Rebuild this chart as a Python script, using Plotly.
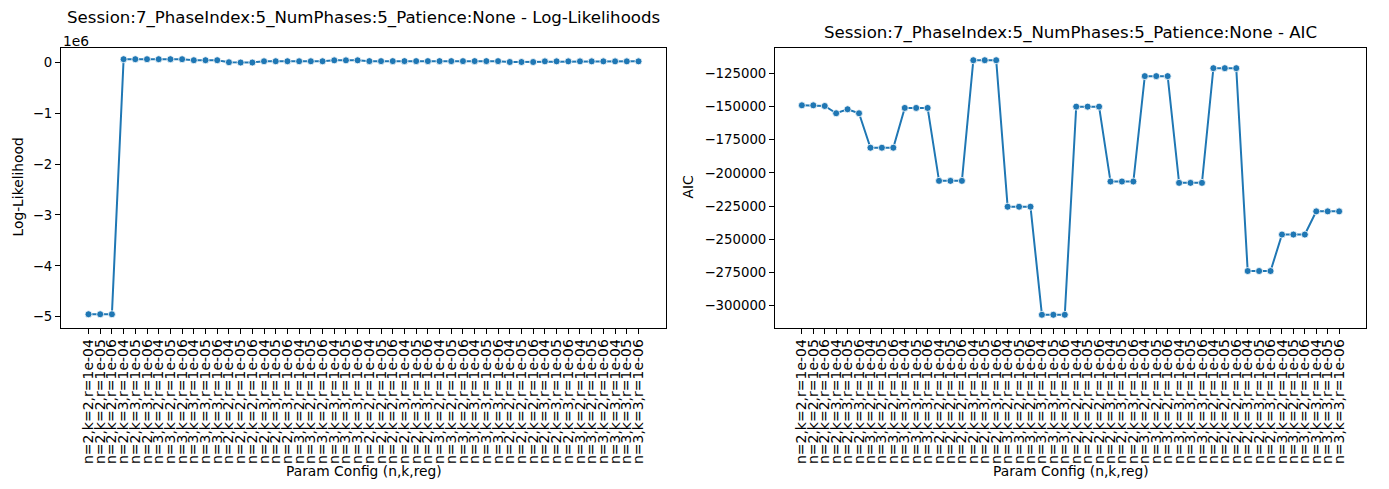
import plotly.graph_objects as go

# The page body has an 8px margin, so the figure is drawn 8px right/down.
OFF = 8
W, H = 1389 - OFF, 489 - OFF

config_labels = [
    "n=2,k=2,r=1e-04", "n=2,k=2,r=1e-05", "n=2,k=2,r=1e-06",
    "n=2,k=3,r=1e-04", "n=2,k=3,r=1e-05", "n=2,k=3,r=1e-06",
    "n=3,k=2,r=1e-04", "n=3,k=2,r=1e-05", "n=3,k=2,r=1e-06",
    "n=3,k=3,r=1e-04", "n=3,k=3,r=1e-05", "n=3,k=3,r=1e-06",
    "n=2,k=2,r=1e-04", "n=2,k=2,r=1e-05", "n=2,k=2,r=1e-06",
    "n=2,k=3,r=1e-04", "n=2,k=3,r=1e-05", "n=2,k=3,r=1e-06",
    "n=3,k=2,r=1e-04", "n=3,k=2,r=1e-05", "n=3,k=2,r=1e-06",
    "n=3,k=3,r=1e-04", "n=3,k=3,r=1e-05", "n=3,k=3,r=1e-06",
    "n=2,k=2,r=1e-04", "n=2,k=2,r=1e-05", "n=2,k=2,r=1e-06",
    "n=2,k=3,r=1e-04", "n=2,k=3,r=1e-05", "n=2,k=3,r=1e-06",
    "n=3,k=2,r=1e-04", "n=3,k=2,r=1e-05", "n=3,k=2,r=1e-06",
    "n=3,k=3,r=1e-04", "n=3,k=3,r=1e-05", "n=3,k=3,r=1e-06",
    "n=2,k=2,r=1e-04", "n=2,k=2,r=1e-05", "n=2,k=2,r=1e-06",
    "n=2,k=3,r=1e-04", "n=2,k=3,r=1e-05", "n=2,k=3,r=1e-06",
    "n=3,k=2,r=1e-04", "n=3,k=2,r=1e-05", "n=3,k=2,r=1e-06",
    "n=3,k=3,r=1e-04", "n=3,k=3,r=1e-05", "n=3,k=3,r=1e-06",
]

log_likelihood = [
    -4950000, -4950000, -4950000,
    60000, 60000, 60000,
    60000, 60000, 60000,
    40000, 40000, 40000,
    0, -5000, -5000,
    20000, 20000, 20000,
    20000, 20000, 20000,
    38000, 38000, 38000,
    22000, 22000, 22000,
    22000, 22000, 22000,
    22000, 22000, 22000,
    22000, 22000, 22000,
    5000, 5000, 5000,
    18000, 18000, 18000,
    18000, 18000, 18000,
    18000, 18000, 18000,
]

aic = [
    -149000, -149000, -149500,
    -155000, -152000, -155000,
    -181000, -181000, -181000,
    -151000, -151000, -151000,
    -206000, -206000, -206000,
    -115000, -115000, -115000,
    -225500, -225500, -225500,
    -307000, -307000, -307000,
    -150000, -150000, -150000,
    -206500, -206500, -206500,
    -127000, -127000, -127000,
    -207500, -207500, -207500,
    -121000, -121000, -121000,
    -274000, -274000, -274000,
    -246500, -246500, -246500,
    -229000, -229000, -229000,
]

ll_ticks = [-5e6, -4e6, -3e6, -2e6, -1e6, 0]
ll_ticktext = ["\u22125", "\u22124", "\u22123", "\u22122", "\u22121", "0"]
aic_ticks = [-300000, -275000, -250000, -225000, -200000, -175000, -150000, -125000]
aic_ticktext = ["\u2212" + str(-v) for v in aic_ticks]

title_left = "Session:7_PhaseIndex:5_NumPhases:5_Patience:None - Log-Likelihoods"
title_right = "Session:7_PhaseIndex:5_NumPhases:5_Patience:None - AIC"
xlabel = "Param Config (n,k,reg)"

FONT = "DejaVu Sans"
BLUE = "#1f77b4"
x_idx = list(range(len(config_labels)))


def px_x(p):
    return (p - OFF) / W


def px_y(p):
    return 1 - (p - OFF) / H


L1, R1 = 61, 666
L2, R2 = 775, 1366
TOP, BOT = 47.5, 327.5

fig = go.Figure()
marker = dict(size=7, color=BLUE, line=dict(color="white", width=0.8))
fig.add_trace(go.Scatter(x=x_idx, y=log_likelihood, mode="lines+markers",
                         line=dict(color=BLUE, width=2), marker=marker,
                         xaxis="x", yaxis="y", showlegend=False))
fig.add_trace(go.Scatter(x=x_idx, y=aic, mode="lines+markers",
                         line=dict(color=BLUE, width=2), marker=marker,
                         xaxis="x2", yaxis="y2", showlegend=False))

n = len(config_labels)
pad = (n - 1) * 0.05
xcommon = dict(tickmode="array", tickvals=x_idx, ticktext=config_labels,
               tickangle=-90, range=[-pad, n - 1 + pad],
               showline=True, mirror=True, linecolor="black", linewidth=1,
               ticks="outside", ticklen=5, tickcolor="black", tickwidth=1,
               showgrid=False, zeroline=False,
               tickfont=dict(family=FONT, size=14, color="black"))
ycommon = dict(showline=True, mirror=True, linecolor="black", linewidth=1,
               ticks="outside", ticklen=5, tickcolor="black", tickwidth=1,
               showgrid=False, zeroline=False, tickmode="array",
               tickfont=dict(family=FONT, size=13.3, color="black"))

fig.update_layout(
    width=W, height=H,
    margin=dict(l=0, r=0, t=0, b=0),
    paper_bgcolor="white", plot_bgcolor="white",
    xaxis=dict(domain=[px_x(L1), px_x(R1)], anchor="y", **xcommon),
    yaxis=dict(domain=[px_y(BOT), px_y(TOP)], anchor="x",
               range=[-5.21e6, 0.29e6], tickvals=ll_ticks, ticktext=ll_ticktext,
               **ycommon),
    xaxis2=dict(domain=[px_x(L2), px_x(R2)], anchor="y2", **xcommon),
    yaxis2=dict(domain=[px_y(BOT), px_y(TOP)], anchor="x2",
                range=[-316600, -105400], tickvals=aic_ticks, ticktext=aic_ticktext,
                **ycommon),
)

ann_font = dict(family=FONT, size=13.8, color="black")
title_font = dict(family=FONT, size=16.6, color="black")
annotations = [
    dict(text=title_left, x=px_x((L1 + R1) / 2), y=px_y(18), font=title_font),
    dict(text=title_right, x=px_x((L2 + R2) / 2), y=px_y(33), font=title_font),
    dict(text="1e6", x=px_x(L1), y=px_y(41), xanchor="left", font=ann_font),
    dict(text=xlabel, x=px_x((L1 + R1) / 2), y=px_y(471), font=ann_font),
    dict(text=xlabel, x=px_x((L2 + R2) / 2), y=px_y(471), font=ann_font),
    dict(text="Log-Likelihood", x=px_x(17), y=px_y((TOP + BOT) / 2), textangle=-90, font=ann_font),
    dict(text="AIC", x=px_x(687), y=px_y((TOP + BOT) / 2), textangle=-90, font=ann_font),
]
for a in annotations:
    a.setdefault("xanchor", "center")
    a.update(xref="paper", yref="paper", yanchor="middle", showarrow=False)
fig.update_layout(annotations=annotations)

fig.write_html("out.html")
